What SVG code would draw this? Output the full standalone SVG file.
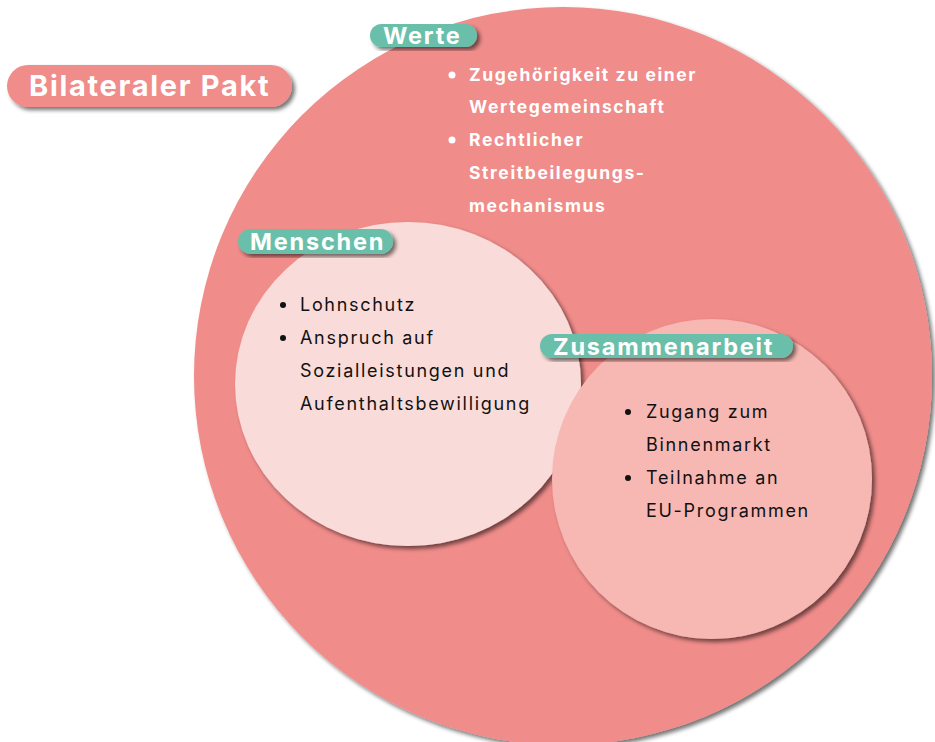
<svg xmlns="http://www.w3.org/2000/svg" width="935" height="742" viewBox="0 0 935 742">
  <defs>
    <filter id="shadow" x="-10%" y="-10%" width="125%" height="125%">
      <feGaussianBlur in="SourceAlpha" stdDeviation="2"/>
      <feOffset dx="3" dy="3" result="off"/>
      <feComponentTransfer><feFuncA type="linear" slope="0.55"/></feComponentTransfer>
      <feMerge><feMergeNode/><feMergeNode in="SourceGraphic"/></feMerge>
    </filter>
  </defs>
  <style>
    .pill { fill: #6bbfaa; filter: url(#shadow); }
    .pill-text { font-family: Inter, "Noto Sans", sans-serif; font-weight: 700; font-size: 23.5px; letter-spacing: 1.8px; fill: #ffffff; }
    .title { fill: #f08c8a; filter: url(#shadow); }
    .title-text { font-family: Inter, "Noto Sans", sans-serif; font-weight: 700; font-size: 29px; letter-spacing: 1.7px; fill: #ffffff; }
    .body { font-family: Inter, "Noto Sans", sans-serif; font-size: 18px; letter-spacing: 1.7px; fill: #111111; }
    .body-white { font-family: Inter, "Noto Sans", sans-serif; font-weight: 700; font-size: 17.5px; letter-spacing: 1.6px; fill: #ffffff; }
  </style>
  <rect width="935" height="742" fill="#ffffff"/>

  <!-- Outer area: Werte -->
  <g id="werte">
    <circle cx="563" cy="376" r="369" fill="#f08c8a" filter="url(#shadow)"/>
    <rect class="pill" x="370" y="24" width="107" height="23" rx="11.5"/>
    <text class="pill-text" x="383" y="44">Werte</text>
    <circle cx="452" cy="75" r="3.5" fill="#ffffff"/>
    <text class="body-white" x="469" y="81">Zugehörigkeit zu einer</text>
    <text class="body-white" x="469" y="113">Wertegemeinschaft</text>
    <circle cx="452" cy="140" r="3.5" fill="#ffffff"/>
    <text class="body-white" x="469" y="146">Rechtlicher</text>
    <text class="body-white" x="469" y="179">Streitbeilegungs-</text>
    <text class="body-white" x="469" y="212">mechanismus</text>
  </g>

  <!-- Title pill -->
  <g id="bilateraler-pakt">
    <rect class="title" x="7" y="65" width="285" height="42" rx="21"/>
    <text class="title-text" x="29" y="96">Bilateraler Pakt</text>
  </g>

  <!-- Inner area: Menschen -->
  <g id="menschen">
    <ellipse cx="408" cy="384" rx="173" ry="162" fill="#f9dcd9" filter="url(#shadow)"/>
    <rect class="pill" x="238" y="229" width="155" height="25" rx="12.5"/>
    <text class="pill-text" x="250" y="250">Menschen</text>
    <circle cx="283" cy="305" r="3" fill="#111111"/>
    <text class="body" x="300" y="311">Lohnschutz</text>
    <circle cx="283" cy="338" r="3" fill="#111111"/>
    <text class="body" x="300" y="344">Anspruch auf</text>
    <text class="body" x="300" y="377">Sozialleistungen und</text>
    <text class="body" x="300" y="410">Aufenthaltsbewilligung</text>
  </g>

  <!-- Inner area: Zusammenarbeit -->
  <g id="zusammenarbeit">
    <circle cx="712" cy="479" r="160" fill="#f7b8b3" filter="url(#shadow)"/>
    <rect class="pill" x="540" y="334" width="253" height="24" rx="12"/>
    <text class="pill-text" x="553" y="354.5">Zusammenarbeit</text>
    <circle cx="628" cy="412" r="3" fill="#111111"/>
    <text class="body" x="646" y="418">Zugang zum</text>
    <text class="body" x="646" y="451">Binnenmarkt</text>
    <circle cx="628" cy="478" r="3" fill="#111111"/>
    <text class="body" x="646" y="484">Teilnahme an</text>
    <text class="body" x="646" y="517">EU-Programmen</text>
  </g>

  <g id="connectors"/>
</svg>
